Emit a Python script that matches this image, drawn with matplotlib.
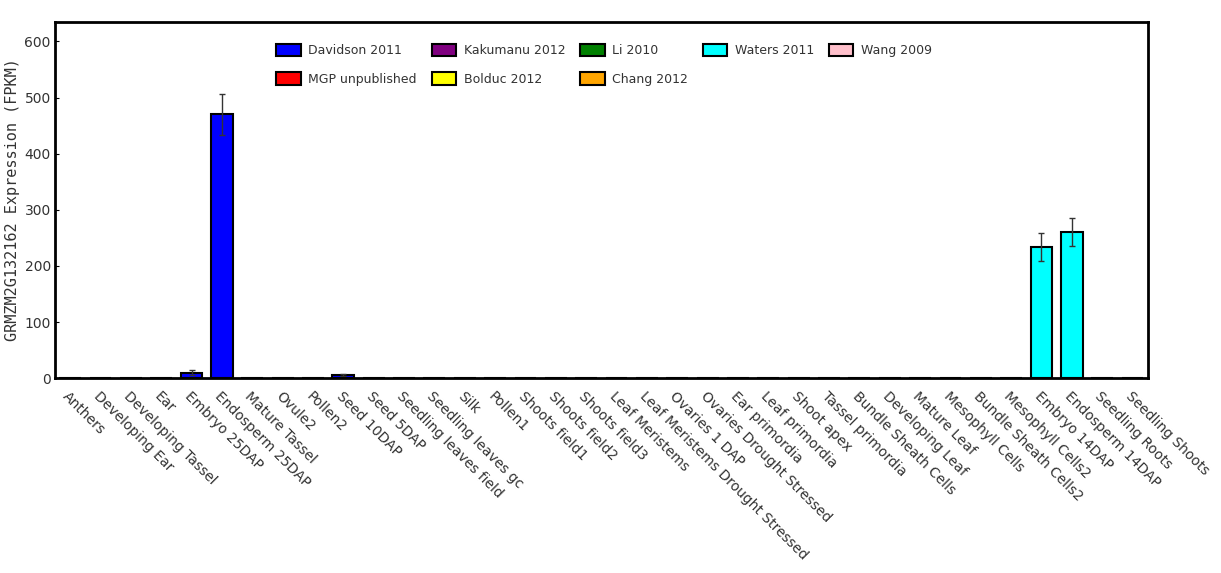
import matplotlib.pyplot as plt
import numpy as np

# tissues in plot order
tissues = ['Anthers', 'Developing Ear', 'Developing Tassel', 'Ear', 'Embryo 25DAP',
           'Endosperm 25DAP', 'Mature Tassel', 'Ovule2', 'Pollen2', 'Seed 10DAP',
           'Seed 5DAP', 'Seedling leaves field', 'Seedling leaves gc', 'Silk', 'Pollen1',
           'Shoots field1', 'Shoots field2', 'Shoots field3', 'Leaf Meristems',
           'Leaf Meristems Drought Stressed', 'Ovaries 1 DAP', 'Ovaries Drought Stressed',
           'Ear primordia', 'Leaf primordia', 'Shoot apex', 'Tassel primordia',
           'Bundle Sheath Cells', 'Developing Leaf', 'Mature Leaf', 'Mesophyll Cells',
           'Bundle Sheath Cells2', 'Mesophyll Cells2', 'Embryo 14DAP', 'Endosperm 14DAP',
           'Seedling Roots', 'Seedling Shoots']

fpkm = [0.3, 0.2, 0.2, 0.3, 10, 470, 0.2, 0.2, 0.3, 5,
        0.3, 0.2, 0.2, 0.2, 0.2, 0.2, 0.2, 0.2, 0.2, 0.2,
        0.2, 0.2, 0.2, 0.2, 0.2, 0.2, 0.2, 0.2, 0.2, 0.2,
        0.2, 0.2, 233, 260, 0.2, 0.2]
err = [0.2, 0.2, 0.2, 0.2, 5, 37, 0.2, 0.2, 0.2, 2,
       0.2, 0.2, 0.2, 0.2, 0.2, 0.2, 0.2, 0.2, 0.2, 0.2,
       0.2, 0.2, 0.2, 0.2, 0.2, 0.2, 0.2, 0.2, 0.2, 0.2,
       0.2, 0.2, 25, 25, 0.2, 0.2]

# study each tissue sample comes from
study = (['Davidson 2011'] * 14 + ['MGP unpublished'] * 4 + ['Kakumanu 2012'] * 4 +
         ['Bolduc 2012'] * 4 + ['Li 2010'] * 4 + ['Chang 2012'] * 2 +
         ['Waters 2011'] * 2 + ['Wang 2009'] * 2)

studies = ['Davidson 2011', 'MGP unpublished', 'Kakumanu 2012', 'Bolduc 2012',
           'Li 2010', 'Chang 2012', 'Waters 2011', 'Wang 2009']
study_colors = ['blue', 'red', 'purple', 'yellow', 'green', 'orange', 'cyan', 'pink']
color_of = dict(zip(studies, study_colors))

fig = plt.figure(figsize=(12.21, 5.73), dpi=100)
ax = fig.add_axes([0.045, 0.34, 0.895, 0.622])

x = np.arange(len(tissues))
ax.bar(x, fpkm, width=0.72, color=[color_of[s] for s in study],
       edgecolor='black', linewidth=1.5, yerr=err,
       error_kw=dict(ecolor='#333333', elinewidth=1, capsize=2))

ax.set_xlim(-0.5, len(tissues) - 0.5)
ax.set_ylim(0, 635)
ax.set_yticks([0, 100, 200, 300, 400, 500, 600])
ax.set_xticks(x)
ax.set_xticklabels(tissues, rotation=-45, ha='left', va='top',
                   rotation_mode='anchor', fontsize=10, color='#333333')
ax.tick_params(axis='y', labelsize=10, labelcolor='#333333', direction='in', length=3, pad=3)
ax.tick_params(axis='x', length=0, pad=8)
for sp in ax.spines.values():
    sp.set_linewidth(2)

ax.set_ylabel('GRMZM2G132162 Expression (FPKM)', fontsize=11, family='DejaVu Sans Mono',
              color='#333333', labelpad=3)

handles = [plt.Rectangle((0, 0), 1, 1, facecolor=c, edgecolor='black', linewidth=1.5)
           for c in study_colors]
ax.legend(handles, studies, ncol=5, loc='upper left', bbox_to_anchor=(0.198, 0.952),
          borderaxespad=0, frameon=False, fontsize=9,
          handlelength=1.95, handleheight=1.15, labelspacing=1.2, columnspacing=1.2,
          handletextpad=0.6, labelcolor='#333333')

fig.savefig('out.png', dpi=100)
